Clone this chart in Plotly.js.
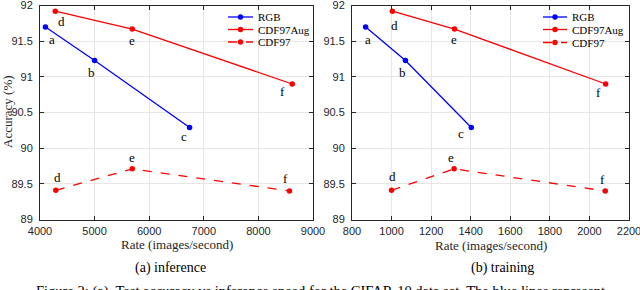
<!DOCTYPE html>
<html><head><meta charset="utf-8">
<script src="https://cdn.plot.ly/plotly-3.0.1.min.js"></script>
<style>html,body{margin:0;padding:0;background:#fff}#c{width:640px;height:290px}</style>
</head><body><div id="c"></div>
<script>
// ---- data ----
const seriesNames = ["RGB", "CDF97Aug", "CDF97"];
// (a) inference
const infRGBx = [4100, 5000, 6740];
const infRGBy = [91.70, 91.23, 90.29];
const infAugX = [4280, 5690, 8620];
const infAugY = [91.92, 91.67, 90.90];
const infCdfX = [4290, 5690, 8570];
const infCdfY = [89.41, 89.71, 89.40];
// (b) training
const trRGBx = [869, 1070, 1403];
const trRGBy = [91.70, 91.23, 90.29];
const trAugX = [1004, 1318, 2082];
const trAugY = [91.92, 91.67, 90.90];
const trCdfX = [1000, 1316, 2080];
const trCdfY = [89.41, 89.71, 89.40];
const rgbLabels = ["a", "b", "c"];
const augLabels = ["d", "e", "f"];
const cdfLabels = ["d", "e", "f"];
const yTicks = [89, 89.5, 90, 90.5, 91, 91.5, 92];
const xTicksA = [4000, 5000, 6000, 7000, 8000, 9000];
const xTicksB = [800, 1000, 1200, 1400, 1600, 1800, 2000, 2200];
const xTitle = "Rate (images/second)";
const yTitle = "Accuracy (%)";
const captionA = "(a) inference";
const captionB = "(b) training";
const figCaption = "Figure 2: (a). Test accuracy vs inference speed for the CIFAR-10 data set. The blue lines represent";

// ---- styles ----
const serif = "Liberation Serif, Times New Roman, serif";
const sans = "Liberation Sans, Arial, sans-serif";
const blue = "#0000ff", red = "#ff0000";
const seriesColors = [blue, red, red];
const seriesDash = ["solid", "solid", "dash"];
const W = 640, H = 290;
function mk(x, y, k, xa, ya) {
  return {x: x, y: y, name: seriesNames[k], type: "scatter", mode: "lines+markers",
    line: {color: seriesColors[k], width: 1.3, dash: seriesDash[k]},
    marker: {color: seriesColors[k], size: 5.5, symbol: "circle"},
    xaxis: xa, yaxis: ya, showlegend: false};
}
const traces = [
  mk(infRGBx, infRGBy, 0, "x", "y"),
  mk(infAugX, infAugY, 1, "x", "y"),
  mk(infCdfX, infCdfY, 2, "x", "y"),
  mk(trRGBx, trRGBy, 0, "x2", "y2"),
  mk(trAugX, trAugY, 1, "x2", "y2"),
  mk(trCdfX, trCdfY, 2, "x2", "y2")
];

const anns = [];
const shapes = [];
function lab(xs, ys, labels, offs, xr, yr) {
  for (let i = 0; i < xs.length; i++) {
    anns.push({x: xs[i], y: ys[i], xref: xr, yref: yr, text: labels[i], showarrow: false,
      xanchor: "center", yanchor: "middle",
      xshift: offs[i][0], yshift: offs[i][1], font: {family: serif, size: 13, color: "#000"}});
  }
}
lab(infRGBx, infRGBy, rgbLabels, [[7,-13],[-3,-12],[-6,-9]], "x", "y");
lab(infAugX, infAugY, augLabels, [[6,-10],[0,-11],[-10,-8]], "x", "y");
lab(infCdfX, infCdfY, cdfLabels, [[2,13],[0,11],[-4,12]], "x", "y");
lab(trRGBx, trRGBy, rgbLabels, [[2,-13],[-3,-12],[-10,-6]], "x2", "y2");
lab(trAugX, trAugY, augLabels, [[2,-14],[0,-10],[-7,-9]], "x2", "y2");
lab(trCdfX, trCdfY, cdfLabels, [[1,14],[-3,11],[-3,11]], "x2", "y2");

function pa(x, y, text, size, extra) {
  anns.push(Object.assign({x: x/W, y: 1 - y/H, xref: "paper", yref: "paper", text: text,
    xanchor: "center", yanchor: "middle", showarrow: false,
    font: {family: serif, size: size, color: "#262626"}}, extra || {}));
}
pa(7, 112, yTitle, 13, {textangle: -90});
pa(177, 244, xTitle, 13);
pa(491, 245, xTitle, 13);
pa(170, 268, captionA, 14, {font: {family: serif, size: 14, color: "#000"}});
pa(502, 268, captionB, 14, {font: {family: serif, size: 14, color: "#000"}});
pa(320, 281, figCaption, 14.5, {yanchor: "top", font: {family: serif, size: 14.5, color: "#000"}});

// compact legend boxes (Plotly's built-in legend rows cannot be this tight)
function legendBox(x0, x1, rowsY, boxX0, boxX1) {
  shapes.push({type: "rect", xref: "paper", yref: "paper", layer: "between",
    x0: boxX0/W, x1: boxX1/W, y0: 1 - 49/H, y1: 1 - 8/H, fillcolor: "#fff", line: {width: 0}});
  for (let k = 0; k < seriesNames.length; k++) {
    const yy = 1 - rowsY[k]/H, xm = (x0 + x1)/2/W;
    shapes.push({type: "line", xref: "paper", yref: "paper", layer: "above",
      x0: x0/W, x1: x1/W, y0: yy, y1: yy, line: {color: seriesColors[k], width: 1.3, dash: seriesDash[k]}});
    shapes.push({type: "circle", xref: "paper", yref: "paper", layer: "above",
      xsizemode: "pixel", ysizemode: "pixel", xanchor: xm, yanchor: yy,
      x0: -2.7, x1: 2.7, y0: -2.7, y1: 2.7, fillcolor: seriesColors[k], line: {width: 0}});
    anns.push({x: (x1 + 3)/W, y: yy, xref: "paper", yref: "paper", text: seriesNames[k],
      xanchor: "left", yanchor: "middle", showarrow: false, font: {family: serif, size: 11, color: "#000"}});
  }
}
legendBox(228, 253, [17, 29.5, 42], 220, 311);
legendBox(543, 567, [17, 29.5, 42.5], 535, 627);

function ax(dom, range, vals) {
  return {domain: dom, range: range, tickmode: "array", tickvals: vals, ticktext: vals.map(String),
    showgrid: true, gridcolor: "#e6e6e6", gridwidth: 1,
    zeroline: false, showline: true, mirror: "ticks", linecolor: "#262626", linewidth: 1,
    ticks: "inside", ticklen: 4, tickcolor: "#262626", ticklabeloverflow: "allow",
    tickfont: {family: sans, size: 11, color: "#262626"}, fixedrange: true};
}
const yTop = 1 - 5.5/H, yBot = 1 - 219.5/H;
const xa = ax([40/W, 313/W], [4000, 9000], xTicksA); xa.anchor = "y"; xa.ticklabelstandoff = 1;
const ya = ax([yBot, yTop], [89, 92.0005], yTicks); ya.anchor = "x"; ya.ticklabelstandoff = 4;
const xb = ax([352/W, 629/W], [800, 2200], xTicksB); xb.anchor = "y2"; xb.ticklabelstandoff = 1;
const yb = ax([yBot, yTop], [89, 92.0005], yTicks); yb.anchor = "x2"; yb.ticklabelstandoff = 4;
const layout = {
  width: W, height: H, margin: {l: 0, r: 0, t: 0, b: 0}, paper_bgcolor: "#fff", plot_bgcolor: "#fff",
  xaxis: xa, yaxis: ya, xaxis2: xb, yaxis2: yb,
  annotations: anns, shapes: shapes, showlegend: false
};
Plotly.newPlot("c", traces, layout, {staticPlot: true, displayModeBar: false});
</script></body></html>
